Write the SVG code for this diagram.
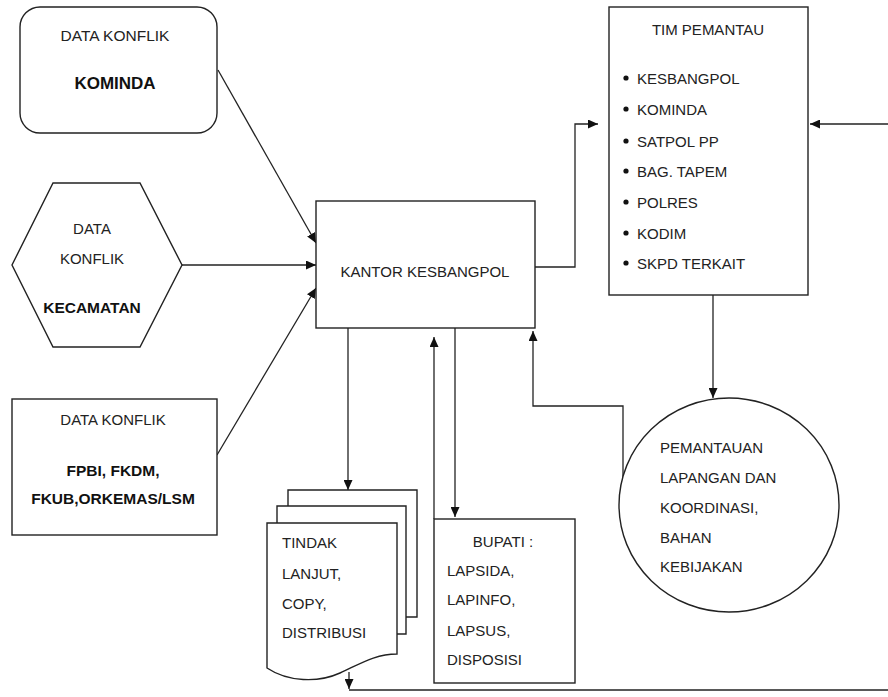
<svg xmlns="http://www.w3.org/2000/svg" width="888" height="697" viewBox="0 0 888 697">
<defs>
<marker id="ah" markerUnits="userSpaceOnUse" markerWidth="10" markerHeight="9" refX="10" refY="4.5" orient="auto">
<path d="M0,0 L10,4.5 L0,9 z" fill="#111"/>
</marker>
<style>
.s{fill:#fff;stroke:#222;stroke-width:1.4}
.c{fill:none;stroke:#222;stroke-width:1.3}
.t{font-family:"Liberation Sans",Arial,sans-serif;font-size:15px;fill:#222}
.b{font-family:"Liberation Sans",Arial,sans-serif;font-size:15.5px;font-weight:bold;fill:#111}
.m{text-anchor:middle}
</style>
</defs>
<rect width="888" height="697" fill="#fff"/>
<g id="connectors">
<path class="c" d="M218,70 L316,243" marker-end="url(#ah)"/>
<path class="c" d="M182,265 L316,265" marker-end="url(#ah)"/>
<path class="c" d="M217,455 L316,288" marker-end="url(#ah)"/>
<path class="c" d="M535,267 L575,267 L575,124 L598,124" marker-end="url(#ah)"/>
<path class="c" d="M888,124 L810,124" marker-end="url(#ah)"/>
<path class="c" d="M713,295 L713,398" marker-end="url(#ah)"/>
<path class="c" d="M623,482 L623,406 L533,406 L533,331" marker-end="url(#ah)"/>
<path class="c" d="M348,328 L348,490" marker-end="url(#ah)"/>
<path class="c" d="M455,328 L455,517" marker-end="url(#ah)"/>
<path class="c" d="M434,519 L434,337" marker-end="url(#ah)"/>
<path class="c" d="M349,672 L349,689" marker-end="url(#ah)"/>
<path class="c" d="M349,690 L888,690"/>
</g>
<g id="kominda">
<rect class="s" x="20" y="7" width="197" height="126" rx="20"/>
<text class="t m" x="115" y="41" style="font-size:15.5px">DATA KONFLIK</text>
<text class="b m" x="115" y="89" style="font-size:17px">KOMINDA</text>
</g>
<g id="kecamatan">
<polygon class="s" points="53,183 140,183 182,265 140,347 53,347 12,265"/>
<text class="t m" x="92" y="234">DATA</text>
<text class="t m" x="92" y="264">KONFLIK</text>
<text class="b m" x="92" y="313">KECAMATAN</text>
</g>
<g id="fpbi">
<rect class="s" x="12" y="399" width="205" height="136"/>
<text class="t m" x="113" y="425">DATA KONFLIK</text>
<text class="b m" x="113" y="476">FPBI, FKDM,</text>
<text class="b m" x="113" y="504">FKUB,ORKEMAS/LSM</text>
</g>
<g id="kantor">
<rect class="s" x="316" y="201" width="219" height="127"/>
<text class="t m" x="425" y="277">KANTOR KESBANGPOL</text>
</g>
<g id="tim">
<rect class="s" x="609" y="7" width="199" height="288"/>
<text class="t m" x="708" y="35">TIM PEMANTAU</text>
<g fill="#111">
<circle cx="626" cy="78" r="2.6"/>
<circle cx="626" cy="109" r="2.6"/>
<circle cx="626" cy="141" r="2.6"/>
<circle cx="626" cy="171" r="2.6"/>
<circle cx="626" cy="202" r="2.6"/>
<circle cx="626" cy="233" r="2.6"/>
<circle cx="626" cy="263" r="2.6"/>
</g>
<text class="t" x="637" y="83.5">KESBANGPOL</text>
<text class="t" x="637" y="114.5">KOMINDA</text>
<text class="t" x="637" y="146.5">SATPOL PP</text>
<text class="t" x="637" y="176.5">BAG. TAPEM</text>
<text class="t" x="637" y="207.5">POLRES</text>
<text class="t" x="637" y="238.5">KODIM</text>
<text class="t" x="637" y="268.5">SKPD TERKAIT</text>
</g>
<g id="pemantauan">
<ellipse class="s" cx="729" cy="505" rx="110" ry="107"/>
<text class="t" x="660" y="453">PEMANTAUAN</text>
<text class="t" x="660" y="483">LAPANGAN DAN</text>
<text class="t" x="660" y="513">KOORDINASI,</text>
<text class="t" x="660" y="543">BAHAN</text>
<text class="t" x="660" y="572">KEBIJAKAN</text>
</g>
<g id="tindak">
<path class="s" d="M288,490 L417,490 L417,617 L288,617 z"/>
<path class="s" d="M277,506 L406,506 L406,634 L277,634 z"/>
<path class="s" d="M267,523 L397,523 L397,654 C375,654 360,664 340,673 C318,683 288,682 267,668 z"/>
<text class="t" x="282" y="548">TINDAK</text>
<text class="t" x="282" y="579">LANJUT,</text>
<text class="t" x="282" y="609">COPY,</text>
<text class="t" x="282" y="638">DISTRIBUSI</text>
</g>
<g id="bupati">
<rect class="s" x="434" y="519" width="141" height="164"/>
<text class="t m" x="503" y="547">BUPATI :</text>
<text class="t" x="447" y="576">LAPSIDA,</text>
<text class="t" x="447" y="605">LAPINFO,</text>
<text class="t" x="447" y="636">LAPSUS,</text>
<text class="t" x="447" y="665">DISPOSISI</text>
</g>
</svg>
